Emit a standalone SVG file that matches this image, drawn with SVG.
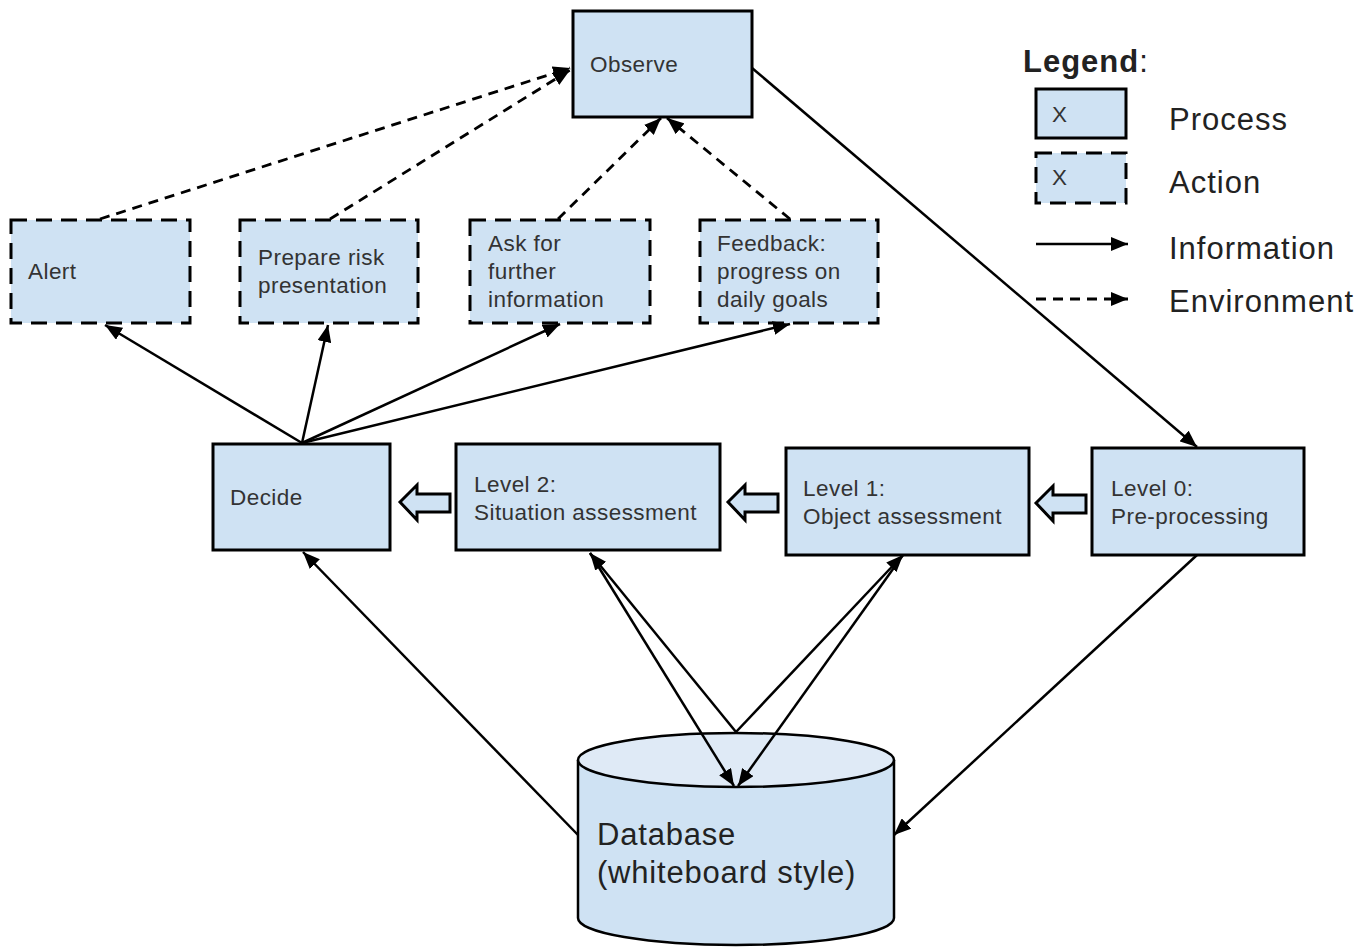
<svg xmlns="http://www.w3.org/2000/svg" width="1372" height="947" viewBox="0 0 1372 947">
  <defs>
    <marker id="arrow" markerUnits="userSpaceOnUse" markerWidth="18" markerHeight="14" refX="17" refY="7" orient="auto">
      <path d="M0,0 L17,7 L0,14 z" fill="#000"/>
    </marker>
    <style>
      .process { fill: #cfe2f3; stroke: #000; stroke-width: 3; }
      .action { fill: #cfe2f3; stroke: #000; stroke-width: 3; stroke-dasharray: 16 9; }
      .info { stroke: #000; stroke-width: 2.5; fill: none; marker-end: url(#arrow); }
      .env { stroke: #000; stroke-width: 2.8; fill: none; stroke-dasharray: 10 7; marker-end: url(#arrow); }
      .block { fill: #cfe2f3; stroke: #000; stroke-width: 3; stroke-linejoin: miter; }
      .label { font-family: "Liberation Sans", Arial, sans-serif; font-size: 22.5px; letter-spacing: 0.45px; fill: #333; }
      .big { font-family: "Liberation Sans", Arial, sans-serif; font-size: 31px; letter-spacing: 0.8px; fill: #222; }
      .legend { font-family: "Liberation Sans", Arial, sans-serif; font-size: 31px; letter-spacing: 1px; fill: #222; }
    </style>
  </defs>

  <rect width="1372" height="947" fill="#fff"/>

  <!-- block arrows between levels -->
  <g id="flow">
    <polygon class="block" points="400,502 417,485 417,494 450,494 450,512 417,512 417,520"/>
    <polygon class="block" points="728,502 745,485 745,494 778,494 778,512 745,512 745,520"/>
    <polygon class="block" points="1036,503 1053,486 1053,495 1086,495 1086,513 1053,513 1053,521"/>
  </g>

  <g id="observe">
    <rect class="process" x="573" y="11" width="179" height="106"/>
    <text class="label" x="590" y="72">Observe</text>
  </g>

  <g id="alert">
    <rect class="action" x="11" y="220" width="179" height="103"/>
    <text class="label" x="28" y="279">Alert</text>
  </g>
  <g id="prepare-risk">
    <rect class="action" x="240" y="220" width="178" height="103"/>
    <text class="label" x="258" y="265">Prepare risk</text>
    <text class="label" x="258" y="293">presentation</text>
  </g>
  <g id="ask-info">
    <rect class="action" x="470" y="220" width="180" height="103"/>
    <text class="label" x="488" y="251">Ask for</text>
    <text class="label" x="488" y="279">further</text>
    <text class="label" x="488" y="307">information</text>
  </g>
  <g id="feedback">
    <rect class="action" x="700" y="220" width="178" height="103"/>
    <text class="label" x="717" y="251">Feedback:</text>
    <text class="label" x="717" y="279">progress on</text>
    <text class="label" x="717" y="307">daily goals</text>
  </g>

  <g id="decide">
    <rect class="process" x="213" y="444" width="177" height="106"/>
    <text class="label" x="230" y="505">Decide</text>
  </g>
  <g id="level2">
    <rect class="process" x="456" y="444" width="264" height="106"/>
    <text class="label" x="474" y="492">Level 2:</text>
    <text class="label" x="474" y="520">Situation assessment</text>
  </g>
  <g id="level1">
    <rect class="process" x="786" y="448" width="243" height="107"/>
    <text class="label" x="803" y="496">Level 1:</text>
    <text class="label" x="803" y="524">Object assessment</text>
  </g>
  <g id="level0">
    <rect class="process" x="1092" y="448" width="212" height="107"/>
    <text class="label" x="1111" y="496">Level 0:</text>
    <text class="label" x="1111" y="524">Pre-processing</text>
  </g>

  <g id="database">
    <path d="M578,760 L578,918 A158,27 0 0 0 894,918 L894,760" fill="#cfe2f3" stroke="#000" stroke-width="2.5"/>
    <ellipse cx="736" cy="760" rx="158" ry="27" fill="#dfeaf6" stroke="#000" stroke-width="2.5"/>
    <text class="big" x="597" y="845">Database</text>
    <text class="big" x="597" y="883">(whiteboard style)</text>
  </g>

  <!-- connectors, drawn over the shapes so heads on the cylinder stay visible -->
  <g id="connectors">
    <!-- environment feedback into Observe -->
    <line class="env" x1="100" y1="219" x2="570" y2="68"/>
    <line class="env" x1="330" y1="219" x2="570" y2="70"/>
    <line class="env" x1="558" y1="219" x2="661" y2="118"/>
    <line class="env" x1="790" y1="219" x2="667" y2="118"/>
    <!-- observation to pre-processing -->
    <line class="info" x1="752" y1="68" x2="1197" y2="447"/>
    <!-- decisions to actions -->
    <line class="info" x1="302" y1="443" x2="105" y2="325"/>
    <line class="info" x1="302" y1="443" x2="328" y2="325"/>
    <line class="info" x1="302" y1="443" x2="560" y2="324"/>
    <line class="info" x1="302" y1="443" x2="790" y2="324"/>
    <!-- database links -->
    <line class="info" x1="578" y1="835" x2="303" y2="552"/>
    <line class="info" x1="1197" y1="555" x2="894" y2="835"/>
    <line class="info" x1="736" y1="732" x2="590" y2="553"/>
    <line class="info" x1="590" y1="553" x2="734" y2="786"/>
    <line class="info" x1="736" y1="732" x2="903" y2="555"/>
    <line class="info" x1="903" y1="555" x2="738" y2="786"/>
  </g>

  <g id="legend">
    <text class="legend" x="1023" y="72" font-size="29" letter-spacing="0.5"><tspan font-weight="bold">Legend</tspan>:</text>
    <rect class="process" x="1036" y="89" width="90" height="49"/>
    <text class="label" x="1052" y="122">X</text>
    <text class="legend" x="1169" y="130">Process</text>
    <rect class="action" x="1036" y="153" width="90" height="50" stroke-dasharray="15 9"/>
    <text class="label" x="1052" y="185">X</text>
    <text class="legend" x="1169" y="193">Action</text>
    <line class="info" x1="1036" y1="244" x2="1128" y2="244"/>
    <text class="legend" x="1169" y="259">Information</text>
    <line class="env" x1="1036" y1="299" x2="1128" y2="299"/>
    <text class="legend" x="1169" y="312">Environment</text>
  </g>
</svg>
